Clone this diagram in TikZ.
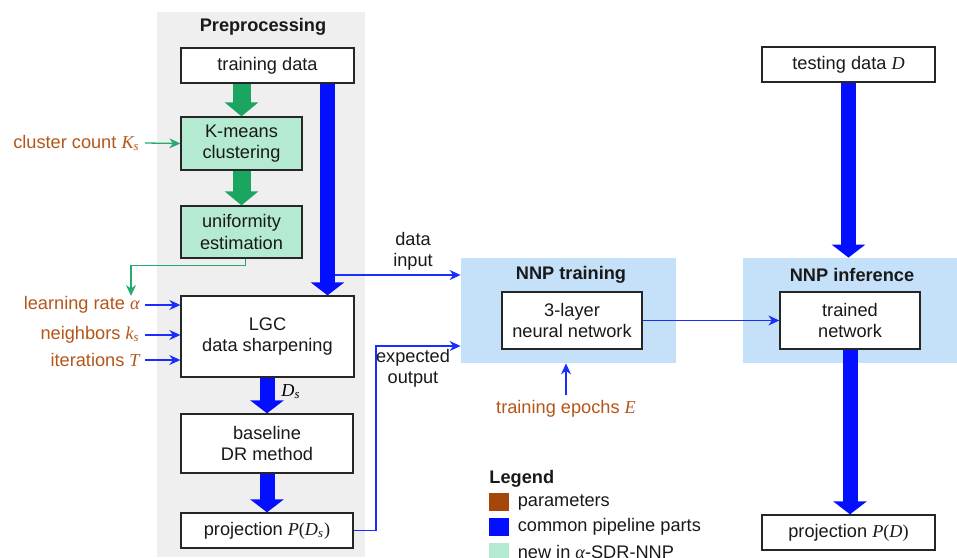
\documentclass[tikz,border=0pt]{standalone}
\usepackage{fontspec}
\setmainfont{Liberation Sans}
\newfontfamily\varfont{Liberation Serif}
\usetikzlibrary{arrows.meta,positioning}
\def\mathvar#1{{\varfont\itshape #1}}
\definecolor{prepgray}{RGB}{239,239,239}
\definecolor{regionblue}{RGB}{197,225,250}
\definecolor{newgreen}{RGB}{180,234,210}
\definecolor{arrowgreen}{RGB}{26,166,96}
\definecolor{linegreen}{RGB}{40,170,110}
\definecolor{pipeblue}{RGB}{5,15,255}
\definecolor{feedblue}{RGB}{25,45,255}
\definecolor{paramorange}{RGB}{180,85,25}
\definecolor{swparam}{RGB}{165,70,10}
\tikzset{
	stage/.style={draw=black!85, line width=0.65pt, fill=white, text=black!90, align=center, inner sep=0pt},
	newstage/.style={stage, fill=newgreen},
	region/.style={fill=regionblue, inner sep=0pt},
	param/.style={text=paramorange, anchor=east, inner sep=2.5pt},
	title/.style={font=\fontsize{9.1}{10.7}\selectfont\bfseries, text=black!90},
	fatblue/.style={draw=pipeblue, line width=7.5pt, -{Triangle[width=16.5pt,length=6.5pt]}},
	fatgreen/.style={draw=arrowgreen, line width=9pt, -{Triangle[width=16.5pt,length=7pt]}},
	feed/.style={draw=feedblue, line width=0.65pt, -{Stealth[length=5.5pt,width=5pt]}},
	greenfeed/.style={feed, draw=linegreen},
	swatch/.style={minimum width=10pt, minimum height=9pt, inner sep=0pt},
	legendtext/.style={inner sep=1pt, text=black!90},
}

\begin{document}
\begin{tikzpicture}[x=0.5pt, y=-0.5pt, font=\fontsize{9.1}{10.7}\selectfont]
			%%%%% START %%%%%
			\useasboundingbox (0,0) rectangle (957,557);
			
			% preprocessing column
			\fill[prepgray] (157,12) rectangle (365,557);
			\node[title] (preptitle) at (263,27) {Preprocessing};
			
			\node[stage, minimum width=86.5pt, minimum height=17.5pt] (tdata) at (267.5,65.5) {training data};
			\node[newstage, minimum width=60.5pt, minimum height=26.5pt] (kmeans) at (241.5,143.5) {K-means\\clustering};
			\node[newstage, minimum width=60.5pt, minimum height=26pt] (unif) at (241.5,232) {uniformity\\estimation};
			\node[stage, minimum width=86.5pt, minimum height=40.5pt] (lgc) at (267.5,336.5) {LGC\\data sharpening};
			\node[stage, minimum width=86pt, minimum height=29.5pt] (base) at (267,443.5) {baseline\\DR method};
			\node[stage, minimum width=86pt, minimum height=17.5pt] (proj) at (267,530.5) {projection \mathvar{P}{\varfont(}\mathvar{D\textsubscript{s}}{\varfont)}};
			\node[anchor=west, inner sep=0pt] (dslabel) at (281,392) {\mathvar{D\textsubscript{s}}};
			
			% parameters
			\node[param] (ccount) at (145,143) {cluster count \mathvar{K\textsubscript{s}}};
			\node[param] (lrate) at (145,305) {learning rate \mathvar{α}};
			\node[param] (nbrs) at (145,335) {neighbors \mathvar{k\textsubscript{s}}};
			\node[param] (iters) at (145,360) {iterations \mathvar{T}};
			
			% training
			\node[region, minimum width=107.5pt, minimum height=52.5pt] (train) at (568.5,310.5) {};
			\node[title] (traintitle) at (571,275) {NNP training};
			\node[stage, minimum width=70pt, minimum height=28.5pt] (net) at (572,320.5) {3-layer\\neural network};
			\node[param, anchor=center] (epochs) at (566,409) {training epochs \mathvar{E}};
			\node[align=center, text=black!90] (dinput) at (413,251) {data\\input};
			\node[align=center, text=black!90] (eoutput) at (413,368) {expected\\output};
			
			% inference
			\node[stage, minimum width=86.5pt, minimum height=17.5pt] (test) at (848.5,64.5) {testing data \mathvar{D}};
			\node[region, minimum width=107pt, minimum height=52.5pt] (infer) at (850,310.5) {};
			\node[title] (infertitle) at (852,275) {NNP inference};
			\node[stage, minimum width=70pt, minimum height=28.5pt] (trained) at (850,320.5) {trained\\network};
			\node[stage, minimum width=86.5pt, minimum height=17.5pt] (projd) at (848.5,532.5) {projection \mathvar{P}{\varfont(}\mathvar{D}{\varfont)}};
			
			% big arrows
			\coordinate (split) at (327.5,275);
			\coordinate (bend) at (376,346);
			\coordinate (alphatop) at (131,296);
			\draw[fatgreen] (tdata.south -| kmeans.north) -- (kmeans.north);
			\draw[fatgreen] (kmeans.south) -- (unif.north);
			\draw[fatblue] (tdata.south -| split) -- (lgc.north -| split);
			\draw[fatblue] (lgc.south -| base.north) -- (base.north);
			\draw[fatblue] (base.south) -- (proj.north);
			\draw[fatblue] (test.south) -- (test.south |- infer.north);
			\draw[fatblue] (trained.south) -- (trained.south |- projd.north);
			
			% thin arrows
			\draw[feed] ([xshift=3.5pt]split) -- (split -| train.west);
			\draw[feed] (proj.east) -| (bend) -- (bend -| train.west);
			\draw[feed] (net.east) -- (trained.west);
			\draw[feed] (epochs.north) -- (epochs.north |- train.south);
			\draw[greenfeed] (ccount.east) -- (kmeans.west);
			\draw[greenfeed] ([xshift=2pt]unif.south) -- ++(0,7) -| (alphatop);
			\draw[feed] (lrate.east) -- (lrate.east -| lgc.west);
			\draw[feed] (nbrs.east) -- (nbrs.east -| lgc.west);
			\draw[feed] (iters.east) -- (iters.east -| lgc.west);
			
			% legend
			\node[title, anchor=west, inner sep=0pt] (legend) at (489,479) {Legend};
			\node[swatch, fill=swparam] (swparam) at (499,502) {};
			\node[legendtext, right=3pt of swparam] (lgparam) {parameters};
			\node[swatch, fill=pipeblue] (swpipe) at (499,527) {};
			\node[legendtext, right=3pt of swpipe] (lgpipe) {common pipeline parts};
			\node[swatch, fill=newgreen] (swnew) at (499,552) {};
			\node[legendtext, right=3pt of swnew] (lgnew) {new in \mathvar{α}-SDR-NNP};
			
			%%%%% END %%%%%
		\end{tikzpicture}
\end{document}
